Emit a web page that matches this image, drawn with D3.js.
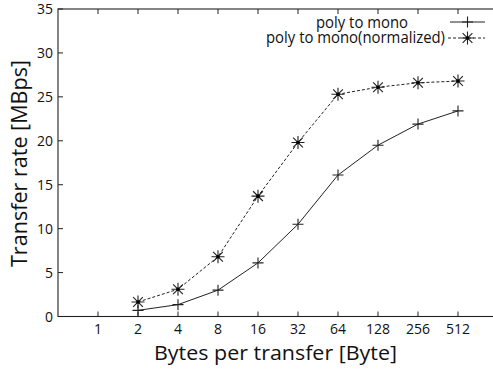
<!DOCTYPE html>
<html>
<head>
<meta charset="utf-8">
<script src="https://cdn.jsdelivr.net/npm/d3@7"></script>
<style>
  body { margin: 0; background: #fff; }
  svg { display: block; font-family: 'Open Sans', sans-serif; }
</style>
</head>
<body>
<svg id="chart"></svg>
<script>
const width = 493, height = 370;

// data
const bytes = [2, 4, 8, 16, 32, 64, 128, 256, 512];
const polyToMono = [0.7, 1.35, 3.0, 6.1, 10.5, 16.1, 19.5, 21.9, 23.4];
const polyToMonoNorm = [1.65, 3.1, 6.8, 13.7, 19.8, 25.3, 26.1, 26.6, 26.8];
const xTicks = [1, 2, 4, 8, 16, 32, 64, 128, 256, 512];
const yTicks = [0, 5, 10, 15, 20, 25, 30, 35];

const plotL = 58, plotR = 498, plotT = 9, plotB = 316.5;

const svg = d3.select('#chart')
  .attr('width', width)
  .attr('height', height);

const x = d3.scaleLog().base(2).domain([0.5, 1024]).range([plotL, plotR]);
const y = d3.scaleLinear().domain([0, 35]).range([plotB, plotT]);

const ink = '#222';

// frame
svg.append('rect')
  .attr('x', plotL).attr('y', plotT)
  .attr('width', plotR - plotL).attr('height', plotB - plotT)
  .attr('fill', 'none').attr('stroke', ink).attr('stroke-width', 1.1);

// ticks, pointing inward on all four sides
const tickLen = 5;
svg.append('g').selectAll('line').data(xTicks).join('line')
  .attr('x1', d => x(d)).attr('x2', d => x(d))
  .attr('y1', plotB).attr('y2', plotB - tickLen)
  .attr('stroke', ink);
svg.append('g').selectAll('line').data(xTicks).join('line')
  .attr('x1', d => x(d)).attr('x2', d => x(d))
  .attr('y1', plotT).attr('y2', plotT + tickLen)
  .attr('stroke', ink);
svg.append('g').selectAll('line').data(yTicks).join('line')
  .attr('x1', plotL).attr('x2', plotL + tickLen)
  .attr('y1', d => y(d)).attr('y2', d => y(d))
  .attr('stroke', ink);
svg.append('g').selectAll('line').data(yTicks).join('line')
  .attr('x1', plotR).attr('x2', plotR - tickLen)
  .attr('y1', d => y(d)).attr('y2', d => y(d))
  .attr('stroke', ink);

// tick labels
svg.append('g').selectAll('text').data(xTicks).join('text')
  .attr('x', d => x(d)).attr('y', plotB + 17)
  .attr('text-anchor', 'middle')
  .attr('font-size', 14)
  .attr('fill', '#111')
  .text(d => d);
svg.append('g').selectAll('text').data(yTicks).join('text')
  .attr('x', plotL - 5).attr('y', d => y(d) + 5)
  .attr('text-anchor', 'end')
  .attr('font-size', 14)
  .attr('fill', '#111')
  .text(d => d);

// axis titles
svg.append('text')
  .attr('x', 275.5).attr('y', 359.5)
  .attr('text-anchor', 'middle')
  .attr('font-size', 20.5)
  .attr('textLength', 243)
  .attr('lengthAdjust', 'spacingAndGlyphs')
  .attr('fill', '#111')
  .text('Bytes per transfer [Byte]');
svg.append('text')
  .attr('transform', `translate(27,163.5) rotate(-90)`)
  .attr('text-anchor', 'middle')
  .attr('font-size', 21)
  .attr('textLength', 207)
  .attr('lengthAdjust', 'spacingAndGlyphs')
  .attr('fill', '#111')
  .text('Transfer rate [MBps]');

// lines
const line = d3.line()
  .x(d => x(d[0]))
  .y(d => y(d[1]));

const solidPts = bytes.map((b, i) => [b, polyToMono[i]]);
const dashPts = bytes.map((b, i) => [b, polyToMonoNorm[i]]);

svg.append('path')
  .datum(solidPts)
  .attr('d', line)
  .attr('fill', 'none')
  .attr('stroke', ink)
  .attr('stroke-width', 1);

svg.append('path')
  .datum(dashPts)
  .attr('d', line)
  .attr('fill', 'none')
  .attr('stroke', ink)
  .attr('stroke-width', 1)
  .attr('stroke-dasharray', '3,2');

// markers
const plus = (g, cx, cy) => {
  const r = 5.5;
  g.append('path')
    .attr('d', `M${cx - r},${cy}H${cx + r}M${cx},${cy - r}V${cy + r}`)
    .attr('stroke', ink).attr('stroke-width', 1.1);
};
const star = (g, cx, cy) => {
  const r = 6.5, d = r * 0.75;
  g.append('path')
    .attr('d', `M${cx - r},${cy}H${cx + r}M${cx},${cy - r}V${cy + r}` +
      `M${cx - d},${cy - d}L${cx + d},${cy + d}M${cx - d},${cy + d}L${cx + d},${cy - d}`)
    .attr('stroke', ink).attr('stroke-width', 1.1);
  g.append('circle').attr('cx', cx).attr('cy', cy).attr('r', 1.8).attr('fill', '#000');
};

const mk = svg.append('g');
solidPts.forEach(p => plus(mk, x(p[0]), y(p[1])));
dashPts.forEach(p => star(mk, x(p[0]), y(p[1])));

// legend
const legend = svg.append('g');
const entries = [
  { label: 'poly to mono', dash: null, mark: plus, yy: 22, base: 27.5, x: 408, len: 92, x1: 450 },
  { label: 'poly to mono(normalized)', dash: '3,2', mark: star, yy: 38, base: 43, x: 445, len: 179, x1: 448 }
];
entries.forEach(e => {
  legend.append('text')
    .attr('x', e.x).attr('y', e.base)
    .attr('text-anchor', 'end')
    .attr('font-size', 16.5)
    .attr('textLength', e.len)
    .attr('lengthAdjust', 'spacingAndGlyphs')
    .attr('fill', '#111')
    .text(e.label);
  legend.append('line')
    .attr('x1', e.x1).attr('x2', 485)
    .attr('y1', e.yy).attr('y2', e.yy)
    .attr('stroke', ink)
    .attr('stroke-dasharray', e.dash);
  e.mark(legend, 467.5, e.yy);
});
</script>
</body>
</html>
